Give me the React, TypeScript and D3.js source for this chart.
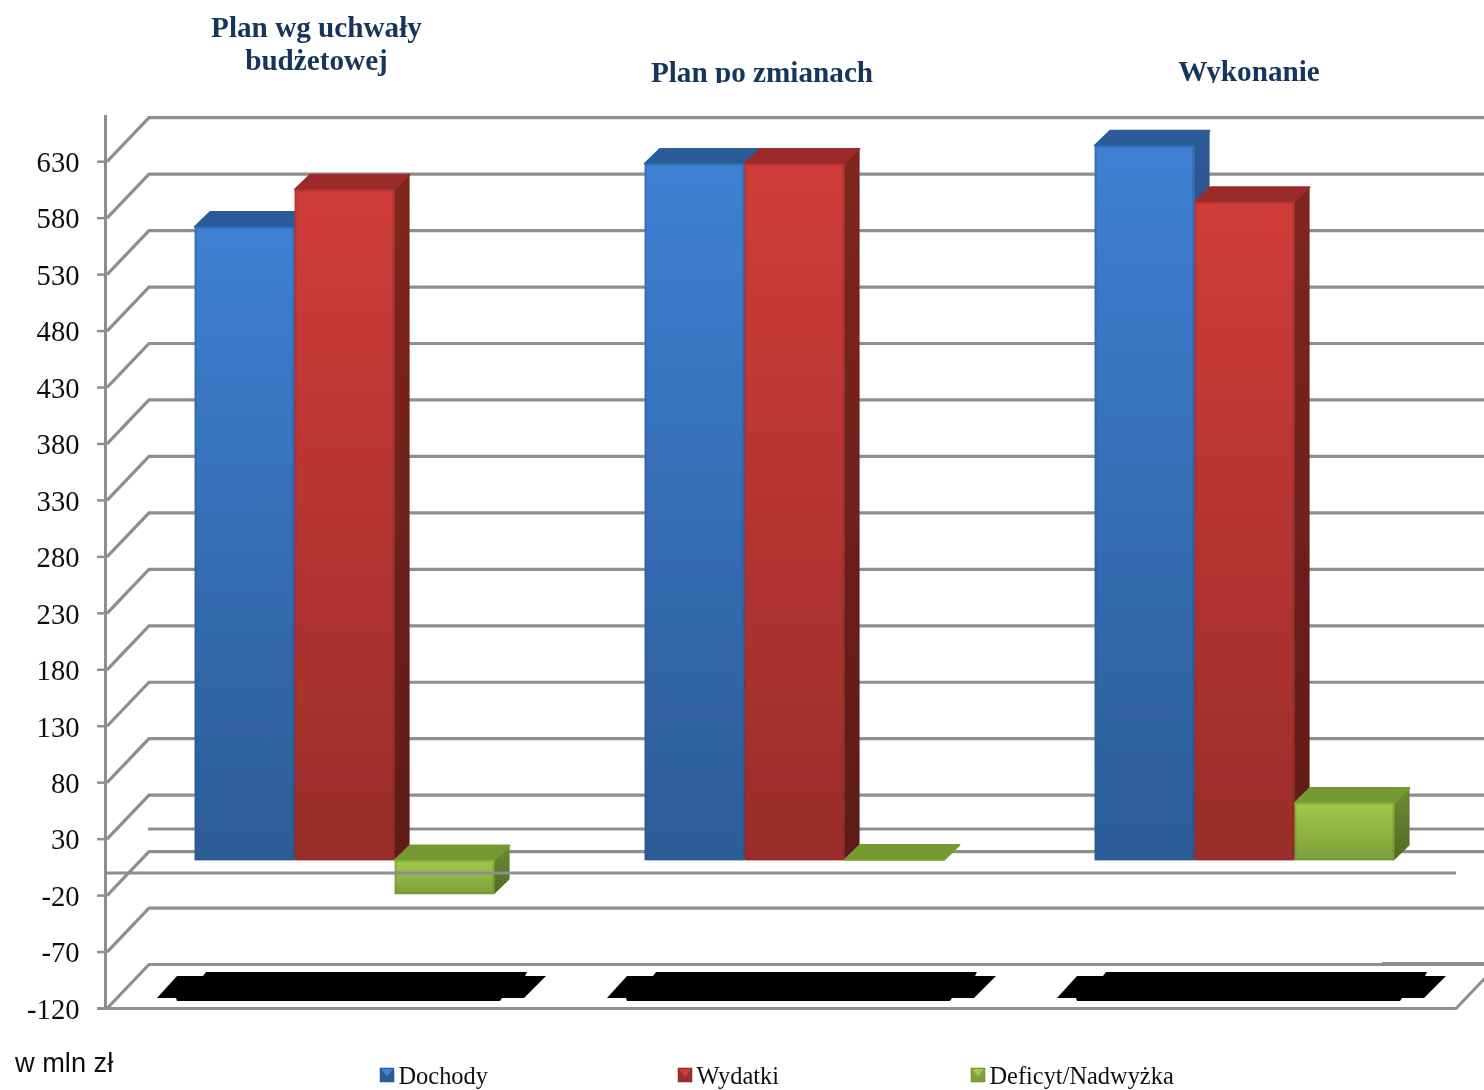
import React from "react";
import * as d3 from "d3";

const categories = ["Plan wg uchwały budżetowej", "Plan po zmianach", "Wykonanie"];
const seriesNames = ["Dochody", "Wydatki", "Deficyt/Nadwyżka"];
const dochody = [561, 617, 633];
const wydatki = [594, 617, 583];
const deficyt = [-30, 0.4, 51];
const tickValues = [630, 580, 530, 480, 430, 380, 330, 280, 230, 180, 130, 80, 30, -20, -70, -120];

const W = 1484, H = 1090;
const y = d3.scaleLinear().domain([-120, 630]).range([1008.5, 161.7]);
const x = d3.scaleBand<string>().domain(categories).range([119.6, 1469.6]);
const groupPad = 75;
const depth = { wall: { dx: 42, dy: -44 }, bar: { dx: 15.5, dy: -15 }, base: -12.7 };
const grid = "#8e8e8e";
const palette = [
  { id: "blue", top: "#2c5c99", f0: "#3f80d2", f1: "#2c5c98", s0: "#2a5a9a", s1: "#1d3f6e", edge: "#264f86" },
  { id: "red", top: "#9b2c2a", f0: "#d03c39", f1: "#9a2d2b", s0: "#80261f", s1: "#5e1a18", edge: "#8a2826" },
  { id: "green", top: "#779933", f0: "#9fca4a", f1: "#7e9f3a", s0: "#6f8c30", s1: "#506a22", edge: "#64802c" },
];
const values = [dochody, wydatki, deficyt];

function Bar({ cat, si, i }: { cat: string; si: number; i: number }) {
  const v = values[si][i];
  const bw = (x.bandwidth() - groupPad * 2) / 3;
  const bx = (x(cat) as number) + groupPad + si * bw;
  const base = y(0) + depth.base;
  const yv = y(v) + depth.base;
  const top = Math.min(base, yv), bot = Math.max(base, yv);
  const { dx, dy } = depth.bar;
  const c = palette[si];
  const w = bw - 0.5;
  return (
    <g>
      <path d={`M${bx + w},${top}L${bx + w + dx},${top + dy}V${bot + dy}L${bx + w},${bot}Z`} fill={`url(#${c.id}S)`} />
      <path d={`M${bx},${top}L${bx + dx},${top + dy}H${bx + w + dx}L${bx + w},${top}Z`} fill={c.top} stroke={c.top} strokeWidth={1.6} strokeLinejoin="round" />
      <rect x={bx} y={top} width={w} height={bot - top} fill={`url(#${c.id}F)`} />
      {bot - top > 2 && (
        <rect x={bx + 1} y={top + 1} width={w - 2} height={bot - top - 2} fill="none" stroke={c.edge} strokeOpacity={0.3} strokeWidth={2} />
      )}
    </g>
  );
}

function Redaction({ cat }: { cat: string }) {
  const o = (x(cat) as number) - 119.6;
  const p: [number, number][] = [
    [157, 998], [177, 976], [203, 976], [206, 972], [527, 972], [525, 976], [546, 976],
    [524, 998], [502, 998], [500, 1001], [177, 1001], [176, 998],
  ];
  return <path d={d3.line()(p.map(([a, b]) => [a + o, b]))! + "Z"} fill="#000" />;
}

const titleLines: string[][] = [["Plan wg uchwały", "budżetowej"], ["Plan po zmianach"], ["Wykonanie"]];
const titleX = [316.5, 762, 1249];
const titleY = [[37, 70], [82], [81]];
const legendX = [380, 678, 971];

export default function App() {
  const x0 = 107;
  return (
    <svg width={W} height={H} viewBox={`0 0 ${W} ${H}`} style={{ position: "absolute", left: 0, top: 0, background: "#fff" }}>
      <defs>
        {palette.map((c) => (
          <React.Fragment key={c.id}>
            <linearGradient id={`${c.id}F`} x1="0" y1="0" x2="0" y2="1">
              <stop offset="0" stopColor={c.f0} />
              <stop offset="1" stopColor={c.f1} />
            </linearGradient>
            <linearGradient id={`${c.id}S`} x1="0" y1="0" x2="0" y2="1">
              <stop offset="0" stopColor={c.s0} />
              <stop offset="1" stopColor={c.s1} />
            </linearGradient>
          </React.Fragment>
        ))}
        <clipPath id="titleClip"><rect x={0} y={0} width={W} height={83} /></clipPath>
        <filter id="soft" x={0} y={0} width={W} height={H} filterUnits="userSpaceOnUse">
          <feGaussianBlur stdDeviation="0.6" />
        </filter>
      </defs>

      <g filter="url(#soft)">
        <rect x={0} y={0} width={W} height={H} fill="#fff" />
        {/* titles */}
        <g clipPath="url(#titleClip)" fontFamily="'Liberation Serif'" fontWeight="bold" fontSize={29.2} fill="#17365d" textAnchor="middle">
          {titleLines.map((ls, i) =>
            ls.map((l, j) => <text key={l} x={titleX[i]} y={titleY[i][j]}>{l}</text>)
          )}
        </g>

        {/* back wall + side gridlines */}
        <g stroke={grid} strokeWidth={3.2} fill="none">
          {tickValues.map((t) => (
            <path key={t} d={`M${x0},${y(t)}L${x0 + depth.wall.dx},${y(t) + depth.wall.dy}H${W}`} />
          ))}
          <line x1={x0 + depth.wall.dx - 1} x2={W} y1={y(0) + depth.wall.dy} y2={y(0) + depth.wall.dy} />
          <line x1={1382} x2={W} y1={y(-120) + depth.wall.dy - 1.5} y2={y(-120) + depth.wall.dy - 1.5} strokeWidth={2} />
        </g>

        {/* bars */}
        {categories.map((cat, i) => (
          <g key={cat}>{seriesNames.map((s, si) => <Bar key={s} cat={cat} si={si} i={i} />)}</g>
        ))}

        {/* front axes */}
        <g stroke={grid} fill="none">
          <line x1={x0} x2={1456} y1={y(0)} y2={y(0)} strokeWidth={2.8} />
          <path d={`M${x0 - 9},${y(-120)}H1456L${1456 + depth.wall.dx},${y(-120) + depth.wall.dy}`} strokeWidth={3} />
          <line x1={105.5} x2={105.5} y1={115} y2={1009} strokeWidth={3} />
          {tickValues.map((t) => <line key={t} x1={97} x2={105} y1={y(t)} y2={y(t)} strokeWidth={2.5} />)}
        </g>

        {/* tick labels */}
        <g fontFamily="'Liberation Serif'" fontSize={28.6} fill="#111" textAnchor="end">
          {tickValues.map((t) => <text key={t} x={79.5} y={y(t) + 10.3}>{t}</text>)}
        </g>

        {categories.map((cat) => <Redaction key={cat} cat={cat} />)}

        <text x={15} y={1072} fontFamily="'Liberation Sans'" fontSize={27.2} fill="#111">w mln zł</text>

        {seriesNames.map((s, i) => (
          <g key={s}>
            <rect x={legendX[i]} y={1068} width={14} height={14} fill={palette[i].f1} stroke={palette[i].edge} strokeWidth={0.5} />
            <path d={`M${legendX[i] + 1},${1069}h12l-6,7.5Z`} fill={palette[i].f0} />
            <text x={legendX[i] + 18.5} y={1084} fontFamily="'Liberation Serif'" fontSize={24.4} fill="#111">{s}</text>
          </g>
        ))}
      </g>
    </svg>
  );
}
